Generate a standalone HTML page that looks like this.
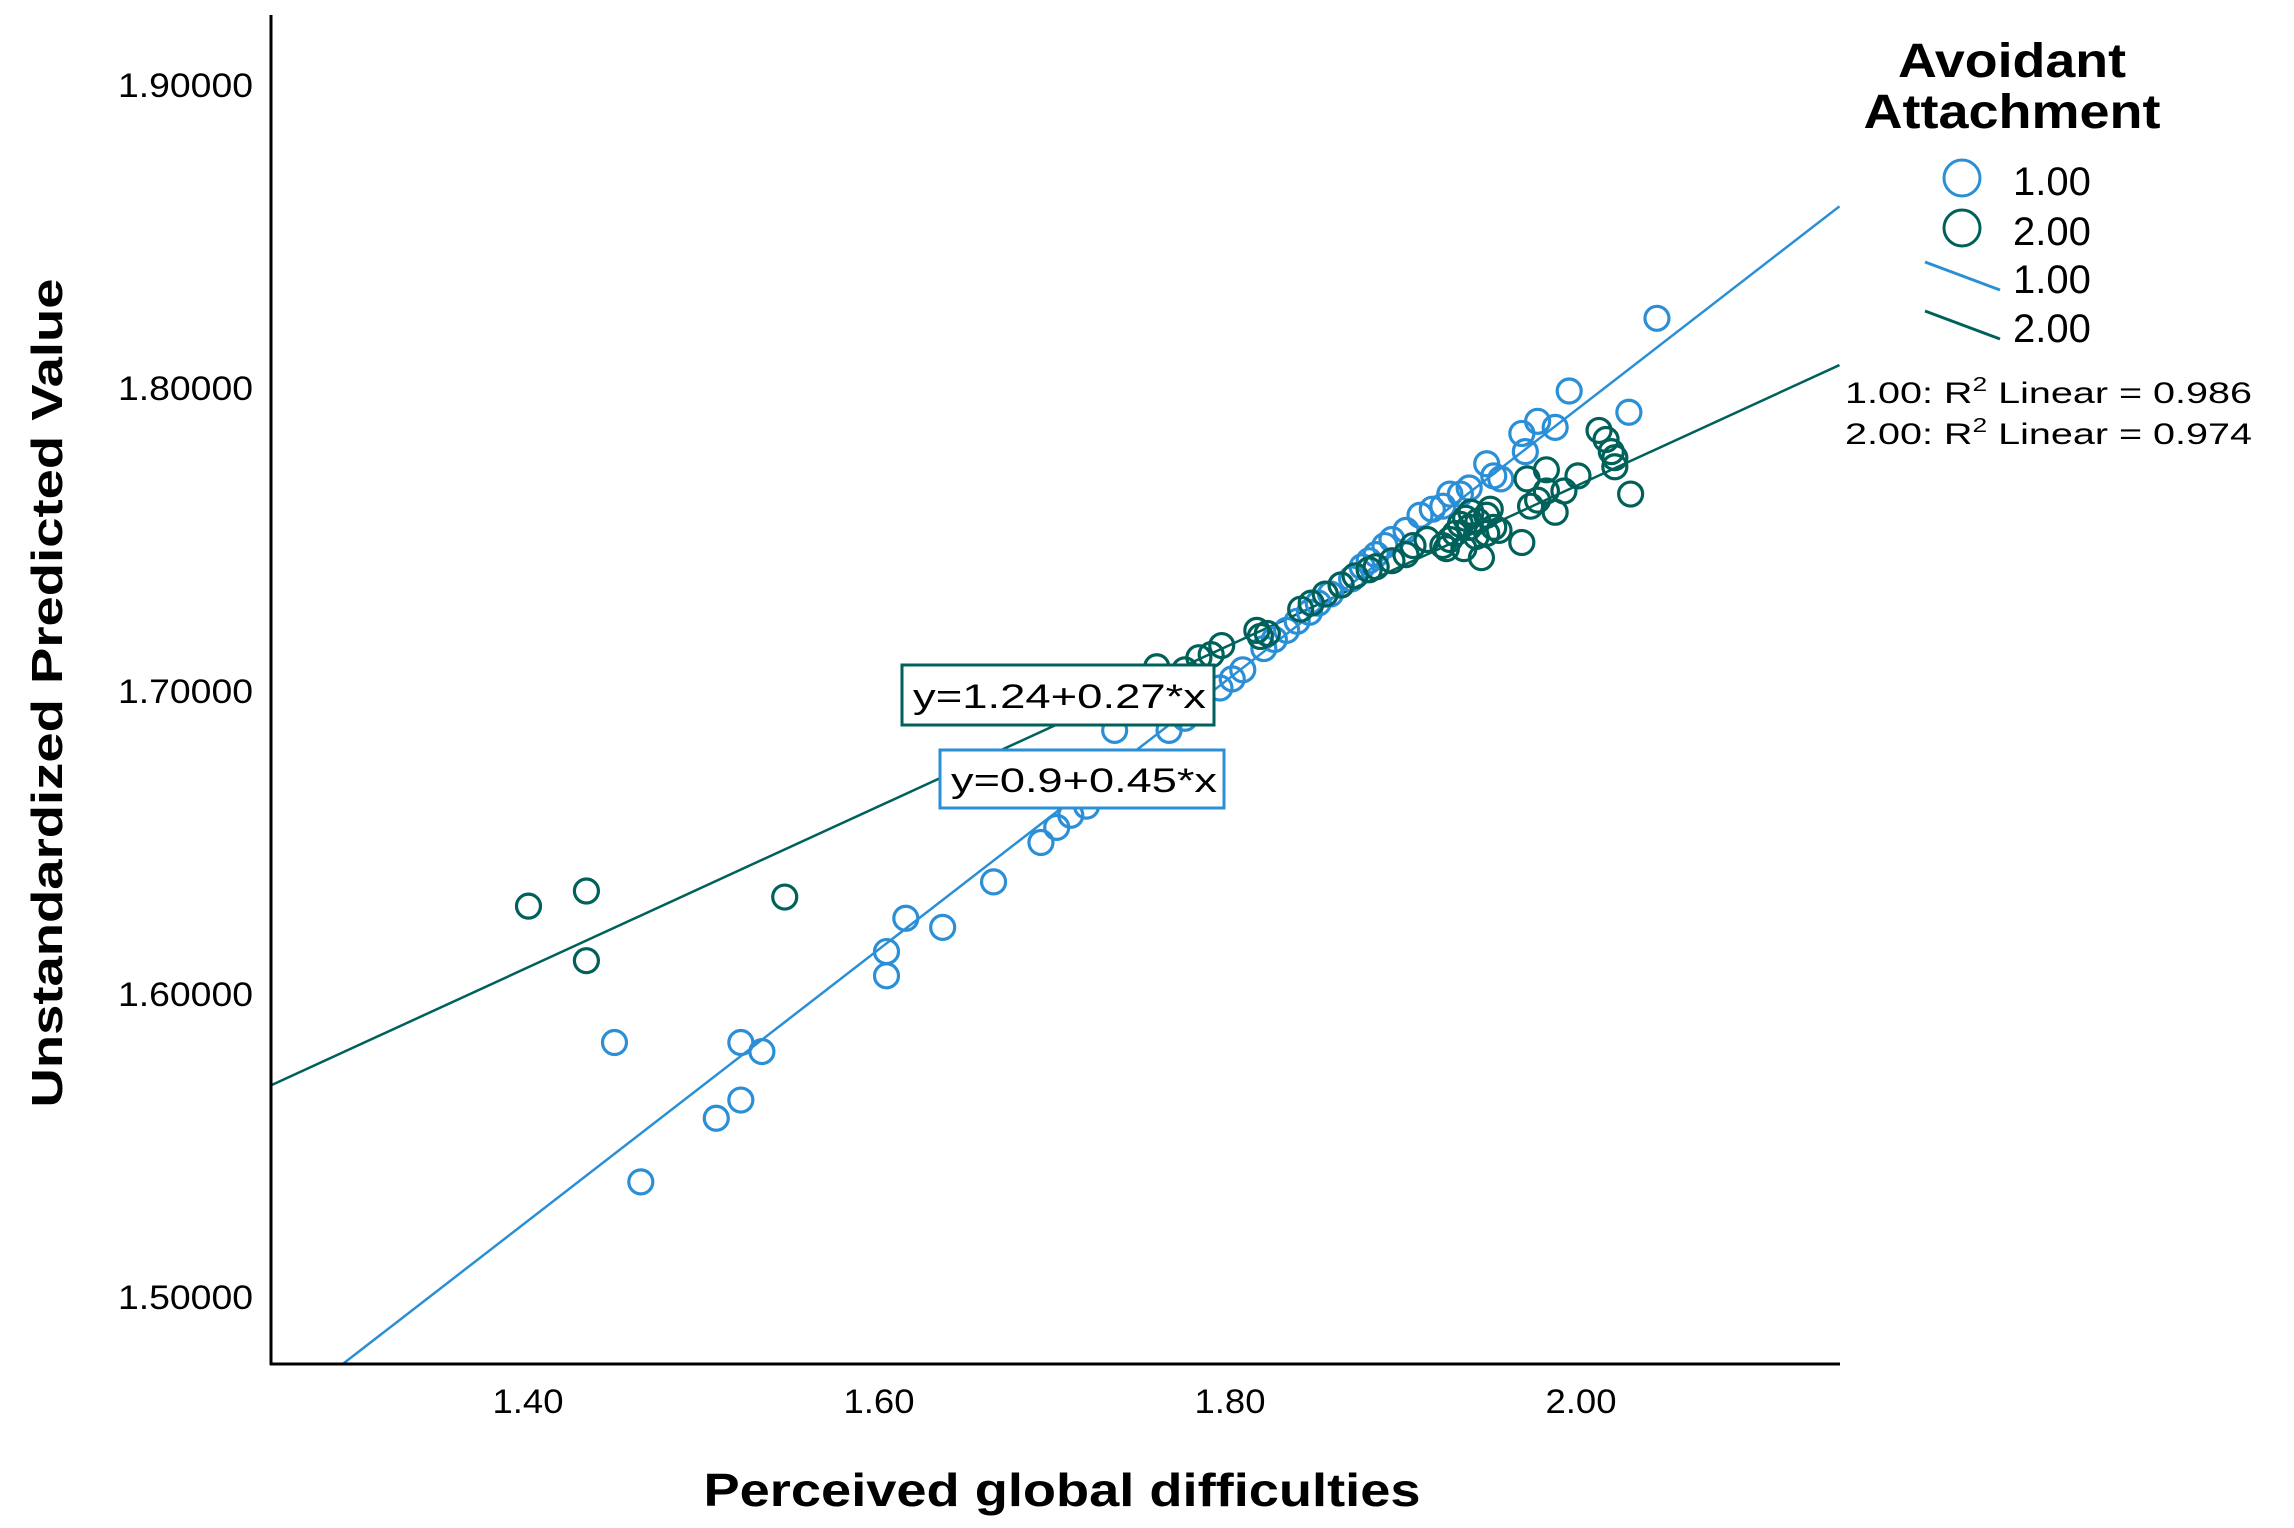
<!DOCTYPE html>
<html><head><meta charset="utf-8"><style>html,body{margin:0;padding:0;background:#fff}svg{display:block}</style></head>
<body>
<svg id="chart" width="2294" height="1528" viewBox="0 0 2294 1528" xmlns="http://www.w3.org/2000/svg" font-family="'Liberation Sans', sans-serif">
<defs><clipPath id="plotclip"><rect x="272" y="15" width="1568" height="1348"/></clipPath></defs>
<g id="lines" clip-path="url(#plotclip)"></g>
<g id="points" clip-path="url(#plotclip)"></g>
<line x1="271" y1="15" x2="271" y2="1365" stroke="#000" stroke-width="3"/>
<line x1="270" y1="1364" x2="1840" y2="1364" stroke="#000" stroke-width="3"/>
<g id="yticks"></g>
<g id="xticks"></g>
<text x="62" y="693" transform="rotate(-90 62 693)" text-anchor="middle" font-weight="bold" font-size="44" textLength="829" lengthAdjust="spacingAndGlyphs">Unstandardized Predicted Value</text>
<text x="1062" y="1506" text-anchor="middle" font-weight="bold" font-size="46" textLength="717" lengthAdjust="spacingAndGlyphs">Perceived global difficulties</text>
<g>
<rect x="902" y="665" width="312" height="60" fill="#fff" stroke="#00605a" stroke-width="3"/>
<text x="913" y="708" font-size="34" textLength="293" lengthAdjust="spacingAndGlyphs">y=1.24+0.27*x</text>
</g>
<g>
<rect x="940" y="750" width="284" height="58" fill="#fff" stroke="#2a8fd6" stroke-width="3"/>
<text x="951" y="792" font-size="34" textLength="266" lengthAdjust="spacingAndGlyphs">y=0.9+0.45*x</text>
</g>
<g>
<text x="2012" y="77" text-anchor="middle" font-weight="bold" font-size="48" textLength="228" lengthAdjust="spacingAndGlyphs">Avoidant</text>
<text x="2012" y="128" text-anchor="middle" font-weight="bold" font-size="48" textLength="297" lengthAdjust="spacingAndGlyphs">Attachment</text>
<circle cx="1962" cy="178" r="18" fill="none" stroke="#2a8fd6" stroke-width="3"/>
<text x="2013" y="195" font-size="40">1.00</text>
<circle cx="1962" cy="228" r="18" fill="none" stroke="#00605a" stroke-width="3"/>
<text x="2013" y="245" font-size="40">2.00</text>
<line x1="1925" y1="262" x2="2000" y2="290" stroke="#2a8fd6" stroke-width="3"/>
<text x="2013" y="293" font-size="40">1.00</text>
<line x1="1925" y1="311" x2="2000" y2="339" stroke="#00605a" stroke-width="3"/>
<text x="2013" y="342" font-size="40">2.00</text>
<text x="1845" y="403" font-size="30" textLength="407" lengthAdjust="spacingAndGlyphs">1.00: R<tspan dy="-12" font-size="20">2</tspan><tspan dy="12"> Linear =  0.986</tspan></text>
<text x="1845" y="444" font-size="30" textLength="407" lengthAdjust="spacingAndGlyphs">2.00: R<tspan dy="-12" font-size="20">2</tspan><tspan dy="12"> Linear =  0.974</tspan></text>
</g>
</svg>
<script>
const xTicks = [1.4, 1.6, 1.8, 2.0];
const xTickLabels = ["1.40", "1.60", "1.80", "2.00"];
const yTicks = [1.5, 1.6, 1.7, 1.8, 1.9];
const yTickLabels = ["1.50000", "1.60000", "1.70000", "1.80000", "1.90000"];
const blueX = [2.041,1.991,2.025,1.973,1.983,1.964,1.944,1.966,1.948,1.952,1.934,1.929,1.923,1.919,1.906,1.913,1.898,1.890,1.886,1.881,1.877,1.873,1.867,1.861,1.855,1.848,1.843,1.836,1.830,1.823,1.817,1.805,1.799,1.792,1.772,1.763,1.732,1.716,1.707,1.699,1.690,1.663,1.634,1.613,1.602,1.602,1.519,1.531,1.447,1.519,1.505,1.462];
const blueY = [1.823,1.799,1.792,1.789,1.787,1.785,1.775,1.779,1.771,1.770,1.767,1.765,1.765,1.761,1.758,1.760,1.753,1.750,1.748,1.745,1.743,1.741,1.737,1.735,1.732,1.729,1.726,1.723,1.720,1.717,1.714,1.707,1.704,1.701,1.691,1.687,1.687,1.662,1.659,1.655,1.650,1.637,1.622,1.625,1.614,1.606,1.584,1.581,1.584,1.565,1.559,1.538];
const greenX = [1.756,1.780,1.793,1.813,1.815,1.819,1.838,1.844,1.852,1.861,1.869,1.877,1.881,1.890,1.898,1.902,1.910,1.919,1.923,1.929,1.934,1.939,1.944,1.948,1.951,1.941,1.964,1.931,1.969,1.973,1.978,1.983,1.988,1.996,1.978,2.008,2.012,2.015,2.017,2.026,2.017,1.967,1.398,1.431,1.431,1.544,1.787,1.772,1.935,1.946,1.938,1.926,1.932,1.944,1.921];
const greenY = [1.708,1.711,1.715,1.720,1.718,1.719,1.727,1.729,1.732,1.735,1.738,1.740,1.741,1.743,1.745,1.748,1.750,1.748,1.750,1.755,1.754,1.756,1.758,1.754,1.753,1.744,1.749,1.747,1.761,1.763,1.766,1.759,1.766,1.771,1.773,1.786,1.783,1.779,1.774,1.765,1.777,1.770,1.629,1.634,1.611,1.632,1.712,1.707,1.759,1.760,1.751,1.752,1.757,1.752,1.747];
const blueFit = [0.899, 0.448];
const greenFit = [1.237, 0.266];

const NS = "http://www.w3.org/2000/svg";
function sx(v){ return 1585 + (v - 2.0) * 1755; }
function sy(v){ return 85 + (1.9 - v) * 3030; }
const X0 = 1.2513, X1 = 2.145;

const yt = document.getElementById('yticks');
yTicks.forEach((v,i)=>{
  const t = document.createElementNS(NS,'text');
  t.setAttribute('x', 253); t.setAttribute('y', sy(v)+12);
  t.setAttribute('text-anchor','end'); t.setAttribute('font-size','34');
  t.setAttribute('textLength','135'); t.setAttribute('lengthAdjust','spacingAndGlyphs');
  t.textContent = yTickLabels[i];
  
  
  yt.appendChild(t);
});
const xt = document.getElementById('xticks');
xTicks.forEach((v,i)=>{
  const t = document.createElementNS(NS,'text');
  t.setAttribute('x', sx(v) - 4); t.setAttribute('y', 1413);
  t.setAttribute('text-anchor','middle'); t.setAttribute('font-size','34');
  t.setAttribute('textLength','71'); t.setAttribute('lengthAdjust','spacingAndGlyphs');
  t.textContent = xTickLabels[i];
  
  
  xt.appendChild(t);
});

const lg = document.getElementById('lines');
[[greenFit,'#00605a','fit-line-2'],[blueFit,'#2a8fd6','fit-line-1']].forEach(([f,c,n])=>{
  const l = document.createElementNS(NS,'line');
  l.setAttribute('x1', sx(X0)); l.setAttribute('y1', sy(f[0]+f[1]*X0));
  l.setAttribute('x2', sx(X1)); l.setAttribute('y2', sy(f[0]+f[1]*X1));
  l.setAttribute('stroke', c); l.setAttribute('stroke-width', '2.5');
  
  
  lg.appendChild(l);
});

const pg = document.getElementById('points');
function drawPts(xs, ys, color, name){
  xs.forEach((v,i)=>{
    const c = document.createElementNS(NS,'circle');
    c.setAttribute('cx', sx(v)); c.setAttribute('cy', sy(ys[i]));
    c.setAttribute('r', 12); c.setAttribute('fill','none');
    c.setAttribute('stroke', color); c.setAttribute('stroke-width','3.2');
    
    
    pg.appendChild(c);
  });
}
drawPts(blueX, blueY, '#2a8fd6', 'point-group-1');
drawPts(greenX, greenY, '#00605a', 'point-group-2');
</script>
</body></html>
